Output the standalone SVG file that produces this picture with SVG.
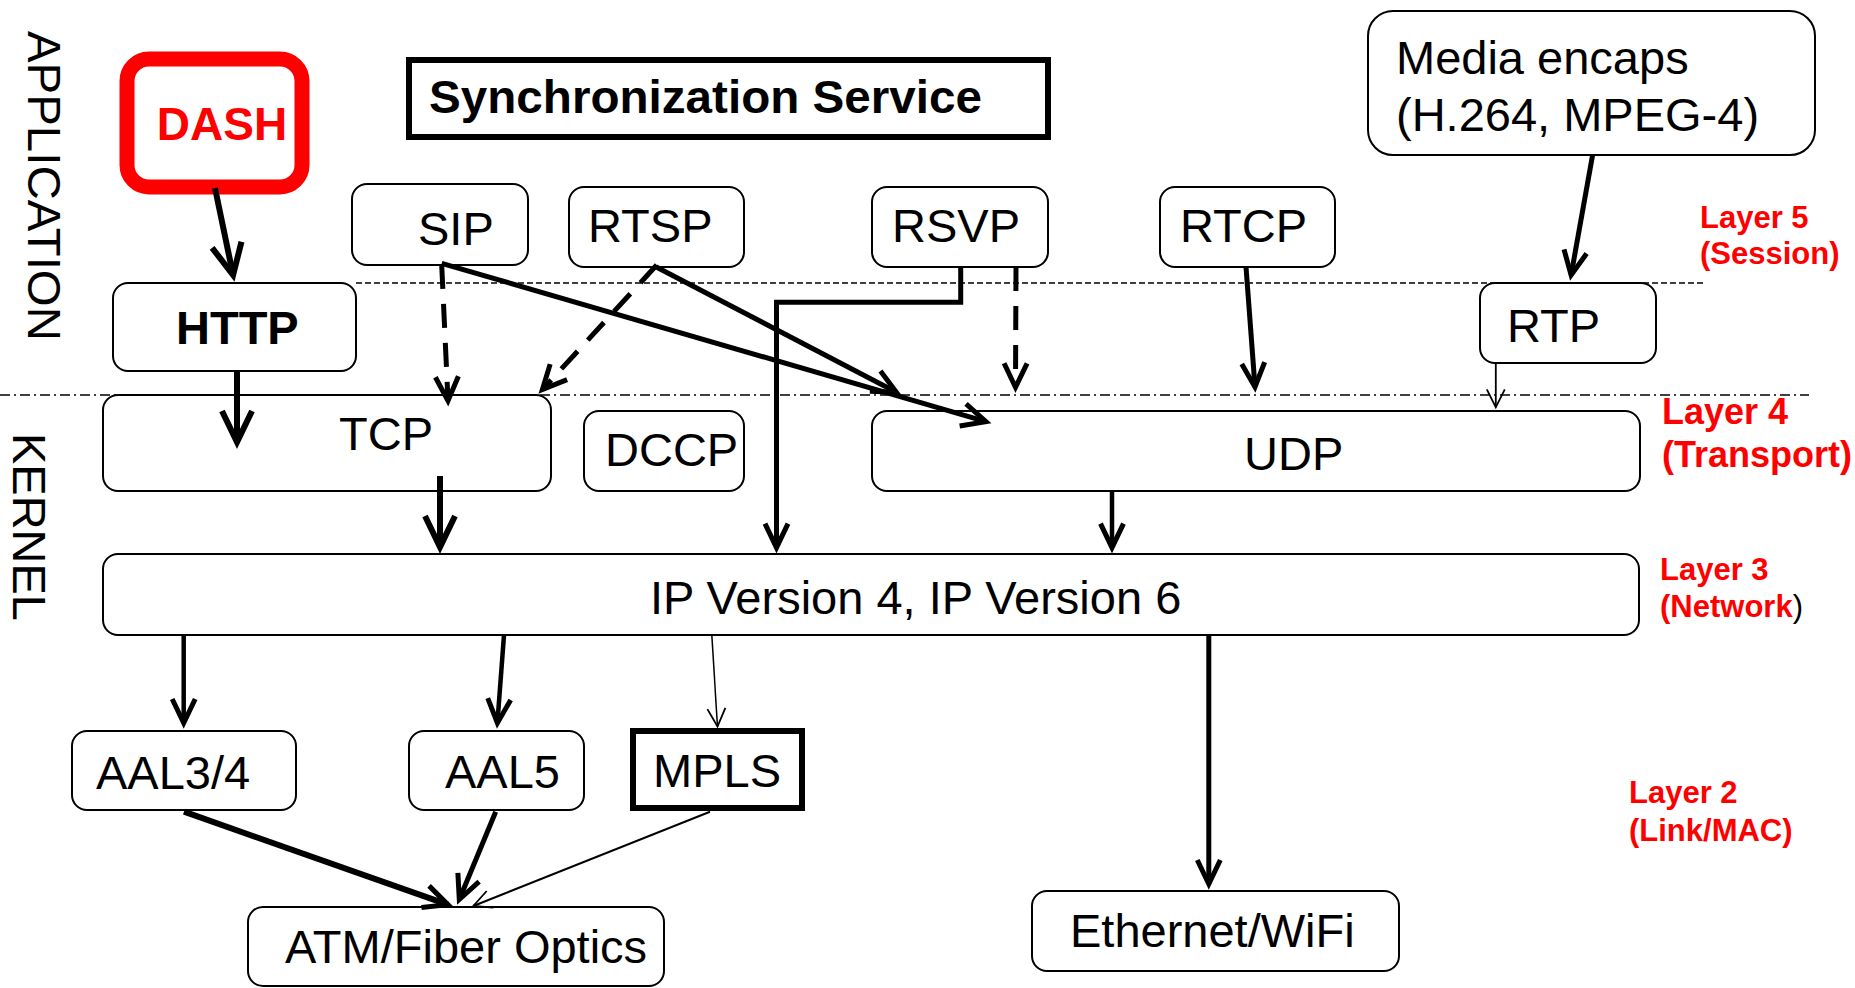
<svg xmlns="http://www.w3.org/2000/svg" width="1855" height="988" viewBox="0 0 1855 988">
<style>
.bx{fill:#fff;stroke:#000;stroke-width:2}
.t{font-family:"Liberation Sans",Arial,sans-serif;font-size:47px;fill:#000}
.b{font-weight:bold}
.lay{font-family:"Liberation Sans",Arial,sans-serif;font-size:31px;font-weight:bold;fill:#ff0000}
.c{fill:none;stroke:#000;stroke-linejoin:miter}
.dash{stroke-dasharray:24 15}
</style>
<defs>
<marker id="mT" markerUnits="userSpaceOnUse" orient="auto" overflow="visible" refX="0" refY="0" markerWidth="1" markerHeight="1"><path d="M-31,-15 L0,0 L-31,15" fill="none" stroke="#000" stroke-width="6" stroke-dasharray="none"/></marker>
<marker id="mM" markerUnits="userSpaceOnUse" orient="auto" overflow="visible" refX="0" refY="0" markerWidth="1" markerHeight="1"><path d="M-24,-11.5 L0,0 L-24,11.5" fill="none" stroke="#000" stroke-width="5" stroke-dasharray="none"/></marker>
<marker id="mS" markerUnits="userSpaceOnUse" orient="auto" overflow="visible" refX="0" refY="0" markerWidth="1" markerHeight="1"><path d="M-18,-9 L0,0 L-18,9" fill="none" stroke="#000" stroke-width="1.8" stroke-dasharray="none"/></marker>
</defs>
<rect width="1855" height="988" fill="#fff"/>

<g id="layer-lines">
<line x1="356" y1="283" x2="1703" y2="283" stroke="#000" stroke-width="1.5" stroke-dasharray="6 3"/>
<line x1="0" y1="395" x2="1809" y2="395" stroke="#000" stroke-width="1.5" stroke-dasharray="10 4 2 4"/>
</g>

<g id="side-labels">
<text class="t" transform="translate(28,31) rotate(90)" textLength="310" lengthAdjust="spacingAndGlyphs">APPLICATION</text>
<text class="t" transform="translate(12.5,433) rotate(90)" textLength="188" lengthAdjust="spacingAndGlyphs">KERNEL</text>
<text class="lay" x="1700" y="228">Layer 5</text>
<text class="lay" x="1700" y="264">(Session)</text>
<text class="lay" x="1662" y="424" style="font-size:36px">Layer 4</text>
<text class="lay" x="1662" y="467" style="font-size:36px">(Transport)</text>
<text class="lay" x="1660" y="580">Layer 3</text>
<text class="lay" x="1660" y="617">(Network<tspan fill="#000" font-weight="normal">)</tspan></text>
<text class="lay" x="1629" y="803">Layer 2</text>
<text class="lay" x="1629" y="841">(Link/MAC)</text>
</g>

<g id="node-dash"><rect x="127" y="59" width="175" height="128" rx="22" fill="#fff" stroke="#ff0000" stroke-width="15"/><text class="t b" x="222" y="140" text-anchor="middle" style="font-size:46px;fill:#ff0000">DASH</text></g>
<g id="node-sync"><rect x="409" y="60" width="639" height="77" fill="#fff" stroke="#000" stroke-width="6"/><text class="t b" x="429" y="113" textLength="553" lengthAdjust="spacingAndGlyphs">Synchronization Service</text></g>
<g id="node-media"><rect class="bx" x="1368" y="11" width="447" height="144" rx="25"/><text class="t" x="1396" y="74">Media encaps</text><text class="t" x="1396" y="131">(H.264, MPEG-4)</text></g>
<g id="node-sip"><rect class="bx" x="352" y="184" width="176" height="81" rx="15"/><text class="t" x="418" y="245">SIP</text></g>
<g id="node-rtsp"><rect class="bx" x="569" y="187" width="175" height="80" rx="15"/><text class="t" x="588" y="242">RTSP</text></g>
<g id="node-rsvp"><rect class="bx" x="872" y="187" width="176" height="80" rx="15"/><text class="t" x="892" y="242">RSVP</text></g>
<g id="node-rtcp"><rect class="bx" x="1160" y="187" width="175" height="80" rx="15"/><text class="t" x="1180" y="242">RTCP</text></g>
<g id="node-http"><rect class="bx" x="113" y="283" width="243" height="88" rx="15"/><text class="t b" x="176" y="344">HTTP</text></g>
<g id="node-rtp"><rect class="bx" x="1480" y="283" width="176" height="80" rx="15"/><text class="t" x="1507" y="342">RTP</text></g>
<g id="node-tcp"><rect class="bx" x="103" y="395" width="448" height="96" rx="15"/><text class="t" x="339" y="450">TCP</text></g>
<g id="node-dccp"><rect class="bx" x="584" y="411" width="160" height="80" rx="15"/><text class="t" x="605" y="466">DCCP</text></g>
<g id="node-udp"><rect class="bx" x="872" y="411" width="768" height="80" rx="15"/><text class="t" x="1244" y="470">UDP</text></g>
<g id="node-ip"><rect class="bx" x="103" y="554" width="1536" height="81" rx="15"/><text class="t" x="650" y="614">IP Version 4, IP Version 6</text></g>
<g id="node-aal34"><rect class="bx" x="72" y="731" width="224" height="79" rx="15"/><text class="t" x="96" y="789">AAL3/4</text></g>
<g id="node-aal5"><rect class="bx" x="409" y="731" width="175" height="79" rx="15"/><text class="t" x="445" y="788">AAL5</text></g>
<g id="node-mpls"><rect x="633" y="731" width="169" height="77" fill="#fff" stroke="#000" stroke-width="6"/><text class="t" x="653" y="787">MPLS</text></g>
<g id="node-atm"><rect class="bx" x="248" y="907" width="416" height="79" rx="15"/><text class="t" x="285" y="963">ATM/Fiber Optics</text></g>
<g id="node-eth"><rect class="bx" x="1032" y="891" width="367" height="80" rx="15"/><text class="t" x="1070" y="947">Ethernet/WiFi</text></g>

<g id="connectors">
<line class="c" x1="215" y1="188" x2="233.1" y2="275.1" stroke-width="6" marker-end="url(#mT)"/>
<line class="c" x1="237" y1="371" x2="237" y2="442" stroke-width="6" marker-end="url(#mT)"/>
<line class="c" x1="440" y1="476" x2="440" y2="547" stroke-width="6" marker-end="url(#mT)"/>
<line class="c dash" x1="441.7" y1="265" x2="448" y2="400.7" stroke-width="5" marker-end="url(#mM)"/>
<line class="c dash" x1="656.7" y1="265" x2="542.4" y2="389.6" stroke-width="5" marker-end="url(#mM)"/>
<line class="c" x1="441.7" y1="263.3" x2="985.9" y2="421.6" stroke-width="5" marker-end="url(#mM)"/>
<line class="c" x1="655.8" y1="266.7" x2="896.4" y2="392.2" stroke-width="5" marker-end="url(#mM)"/>
<polyline class="c" points="960.7,267 960.7,302.3 776.5,302.3 776.5,547.6" stroke-width="5" marker-end="url(#mM)"/>
<line class="c dash" x1="1016" y1="267" x2="1015.5" y2="387.3" stroke-width="5" marker-end="url(#mM)"/>
<line class="c" x1="1246" y1="267" x2="1255" y2="387" stroke-width="5" marker-end="url(#mM)"/>
<line class="c" x1="1592.6" y1="155" x2="1571.1" y2="275.1" stroke-width="5" marker-end="url(#mM)"/>
<line class="c" x1="1495.8" y1="363" x2="1495.8" y2="407.3" stroke-width="1.8" marker-end="url(#mS)"/>
<line class="c" x1="1112" y1="491" x2="1112" y2="547.6" stroke-width="4.5" marker-end="url(#mM)"/>
<line class="c" x1="183.7" y1="635" x2="183.7" y2="723" stroke-width="4.5" marker-end="url(#mM)"/>
<line class="c" x1="504" y1="635" x2="497.4" y2="723" stroke-width="4.5" marker-end="url(#mM)"/>
<line class="c" x1="711.8" y1="635" x2="717.5" y2="726.5" stroke-width="1.5" marker-end="url(#mS)"/>
<line class="c" x1="1208.8" y1="635" x2="1208.8" y2="884" stroke-width="5" marker-end="url(#mM)"/>
<line class="c" x1="184" y1="811.7" x2="447.9" y2="904.7" stroke-width="6" marker-end="url(#mM)"/>
<line class="c" x1="495.7" y1="811.7" x2="459.3" y2="899.5" stroke-width="5" marker-end="url(#mM)"/>
<line class="c" x1="710" y1="811.7" x2="473.3" y2="906" stroke-width="2" marker-end="url(#mS)"/>
</g>
</svg>
